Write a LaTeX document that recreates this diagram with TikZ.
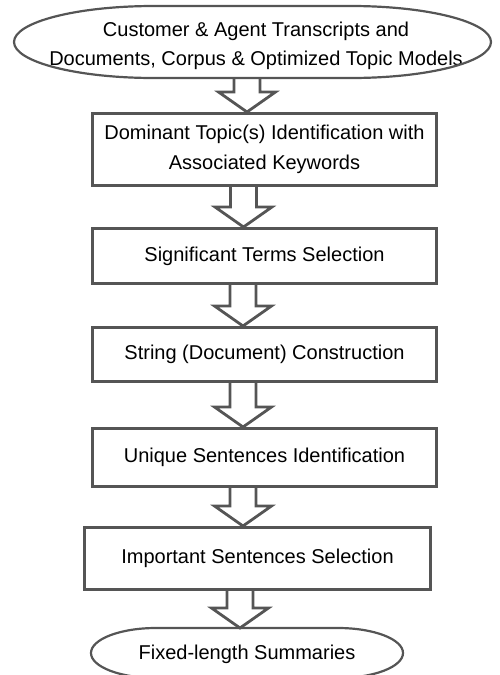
\documentclass[tikz,border=0pt]{standalone}
\usepackage{fontspec}
\setmainfont{Liberation Sans}
\usetikzlibrary{calc}
\definecolor{lg}{RGB}{85,85,85}
\newcommand\blockarr[3]{%
  \draw[barrow] let \p1=(#1.south -| #3), \p2=(#2.north -| #3) in
    (\x1-13pt,\y1) -- (\x1-13pt,\y2+20pt) -- (\x1-28.5pt,\y2+20pt) -- (\x2,\y2)
    -- (\x1+28.5pt,\y2+20pt) -- (\x1+13pt,\y2+20pt) -- (\x1+13pt,\y1);}
\newcommand\termshape[3]{%
  \draw[termline] ([xshift=#2]#1.north west) -- ([xshift=-#2]#1.north east)
    arc[start angle=90,end angle=-90,x radius=#2,y radius=#3]
    -- ([xshift=#2]#1.south west)
    arc[start angle=270,end angle=90,x radius=#2,y radius=#3] -- cycle;}
\begin{document}
\begin{tikzpicture}[x=1pt,y=-1pt,
  box/.style={draw=lg, line width=3pt, fill=white, inner sep=0pt, align=center,
    font=\fontsize{20}{29.5}\selectfont},
  termnode/.style={inner sep=0pt, outer sep=0pt},
  txt/.style={align=center, font=\fontsize{20}{29.5}\selectfont, inner sep=0pt},
  termline/.style={draw=lg, line width=2.2pt},
  barrow/.style={draw=lg, line width=2.8pt, fill=white, line join=miter}]
\useasboundingbox (0,0) rectangle (500,675);
% terminators (outline drawn later)
\node[termnode, minimum width=477pt, minimum height=72pt] (top) at (252.5,42) {};
\node[txt] (toptext) at (256,46) {Customer \& Agent Transcripts and\\Documents, Corpus \& Optimized Topic Models};
\node[termnode, minimum width=312pt, minimum height=50pt] (fin) at (247,653) {};
\node[txt] (fintext) at (247,654) {Fixed-length Summaries};
% process boxes
\node[box, minimum width=344pt, minimum height=72pt] (b1) at (264.5,149.5) {Dominant Topic(s) Identification with\\Associated Keywords};
\node[box, minimum width=344pt, minimum height=55pt] (b2) at (264.5,256) {Significant Terms Selection};
\node[box, minimum width=344pt, minimum height=54pt] (b3) at (264.5,354.5) {String (Document) Construction};
\node[box, minimum width=344pt, minimum height=58pt] (b4) at (264.5,457.5) {Unique Sentences Identification};
\node[box, minimum width=346pt, minimum height=62pt] (b5) at (257.5,558.5) {Important Sentences Selection};
% arrow axes
\coordinate (a1) at (247,0);
\coordinate (a2) at (243.5,0);
\coordinate (a3) at (243,0);
\coordinate (a4) at (243,0);
\coordinate (a5) at (240,0);
% block arrows
\blockarr{top}{b1}{a1}
\blockarr{b1}{b2}{a2}
\blockarr{b2}{b3}{a3}
\blockarr{b3}{b4}{a4}
\blockarr{b4}{b5}{a4}
\blockarr{b5}{fin}{a5}
% terminator outlines
\termshape{top}{140pt}{36pt}
\termshape{fin}{65pt}{25pt}
\end{tikzpicture}
\end{document}
